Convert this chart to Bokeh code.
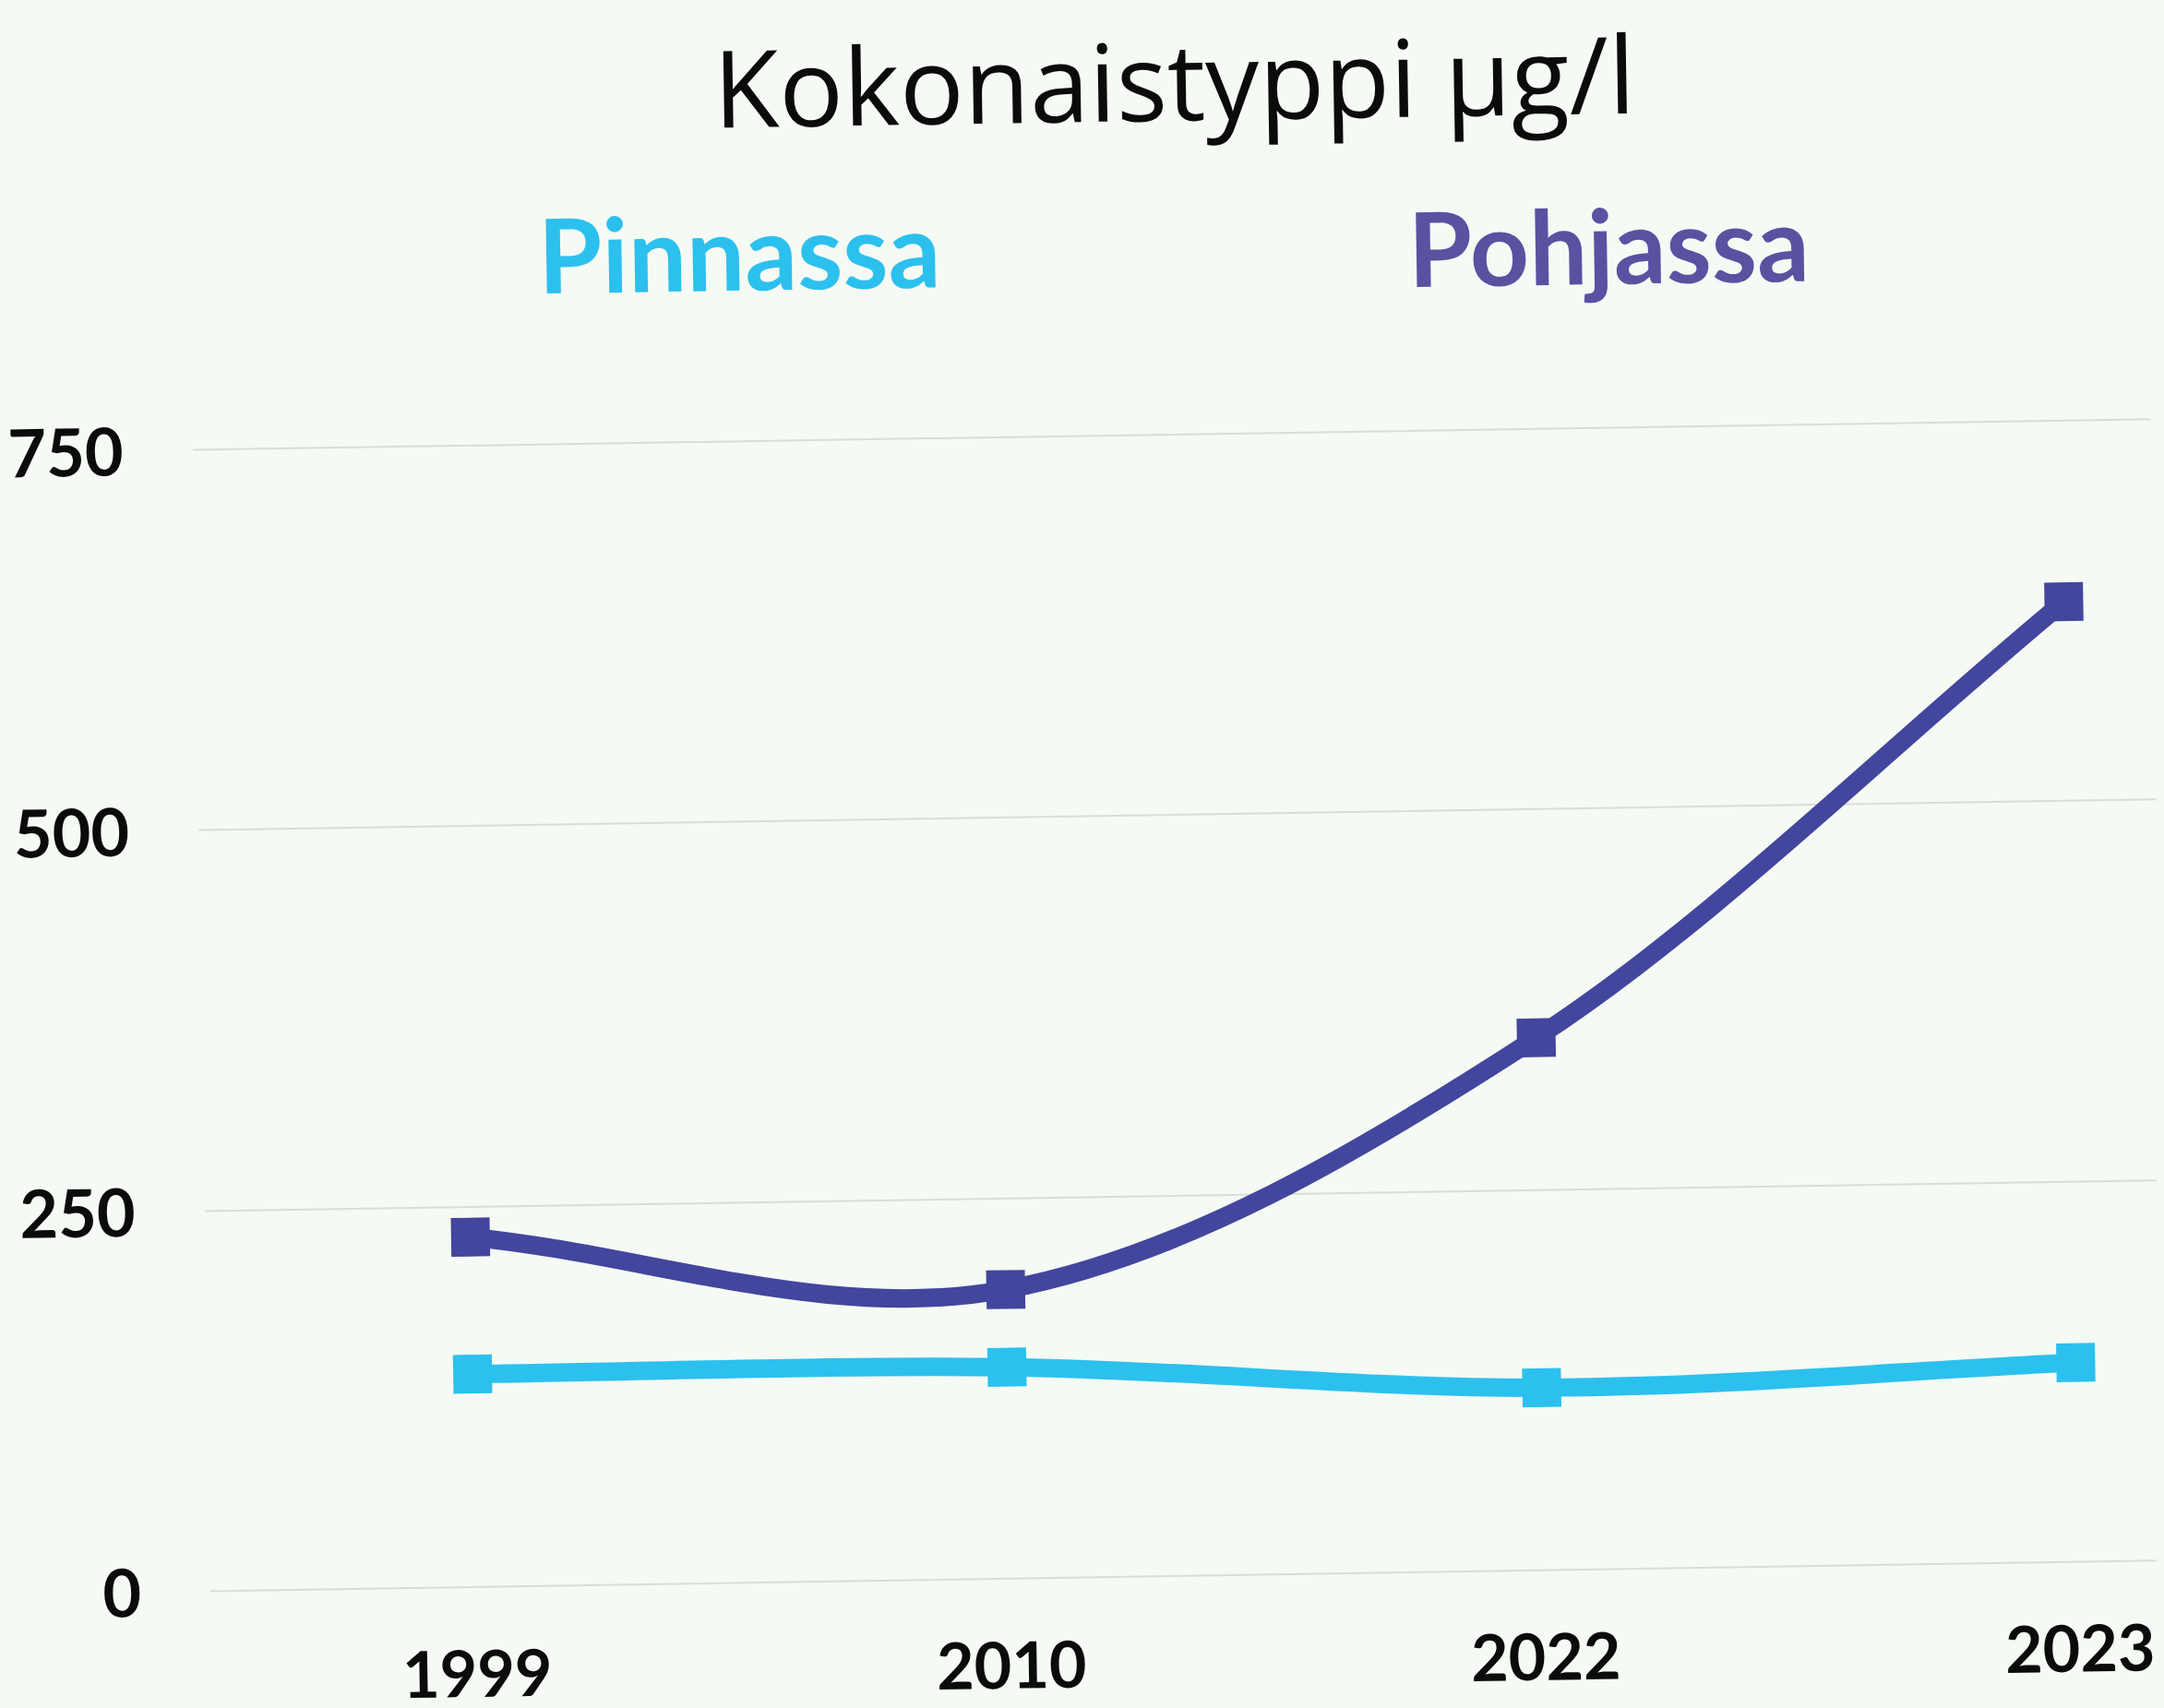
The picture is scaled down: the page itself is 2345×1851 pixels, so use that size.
from bokeh.plotting import figure
from bokeh.models import Range1d, FixedTicker, Label, InlineStyleSheet
from bokeh.embed import file_html
from bokeh.resources import INLINE

# ---- data ----
years = ["1999", "2010", "2022", "2023"]
pinnassa = [140, 139, 120, 131]
pohjassa = [230, 190, 350, 631]
y_ticks = [0, 250, 500, 750]
title_text = "Kokonaistyppi µg/l"
series_names = ["Pinnassa", "Pohjassa"]

BG = "#f5faf4"
C_PIN = "#2cc0ee"
C_POH = "#42469d"
C_POH_TXT = "#5b51a1"

xs = list(range(len(years)))


def bezier_segments(xv, yv):
    n = len(xv)
    tang = []
    for i in range(n):
        if i == 0:
            t = (yv[1] - yv[0]) / (xv[1] - xv[0])
        elif i == n - 1:
            t = (yv[-1] - yv[-2]) / (xv[-1] - xv[-2])
        else:
            t = (yv[i + 1] - yv[i - 1]) / (xv[i + 1] - xv[i - 1])
        tang.append(t)
    d = dict(x0=[], y0=[], x1=[], y1=[], cx0=[], cy0=[], cx1=[], cy1=[])
    for i in range(n - 1):
        h = xv[i + 1] - xv[i]
        d["x0"].append(xv[i]); d["y0"].append(yv[i])
        d["x1"].append(xv[i + 1]); d["y1"].append(yv[i + 1])
        d["cx0"].append(xv[i] + h / 3); d["cy0"].append(yv[i] + tang[i] * h / 3)
        d["cx1"].append(xv[i + 1] - h / 3); d["cy1"].append(yv[i + 1] - tang[i + 1] * h / 3)
    return d


p = figure(frame_width=2122, frame_height=1712, output_backend="svg",
           toolbar_location=None,
           x_range=Range1d(-0.497, 3.1675), y_range=Range1d(-6.67, 1031.5),
           min_border_left=207, min_border_right=0, min_border_top=0,
           min_border_bottom=0)

p.background_fill_color = BG
p.border_fill_color = BG
p.outline_line_color = None

p.xgrid.visible = False
p.ygrid.grid_line_color = "#d9ddd8"
p.ygrid.grid_line_width = 2

p.yaxis.ticker = FixedTicker(ticks=y_ticks)
p.xaxis.ticker = FixedTicker(ticks=xs)
p.xaxis.major_label_overrides = {i: y for i, y in zip(xs, years)}

for ax in (p.xaxis[0], p.yaxis[0]):
    ax.axis_line_color = None
    ax.major_tick_line_color = None
    ax.minor_tick_line_color = None
    ax.major_tick_out = 0
    ax.major_tick_in = 0
    ax.major_label_text_color = "#0b0b0b"
    ax.major_label_text_font = "Lato"
    ax.major_label_text_font_style = "bold"

p.yaxis.major_label_text_font_size = "72px"
p.yaxis.major_label_standoff = 75
p.xaxis.major_label_text_font_size = "70px"
p.xaxis.major_label_standoff = 57

for vals, col in ((pinnassa, C_PIN), (pohjassa, C_POH)):
    seg = bezier_segments(xs, vals)
    p.bezier(x0=seg["x0"], y0=seg["y0"], x1=seg["x1"], y1=seg["y1"],
             cx0=seg["cx0"], cy0=seg["cy0"], cx1=seg["cx1"], cy1=seg["cy1"],
             line_color=col, line_width=20)
    p.scatter(xs, vals, marker="square", size=42, fill_color=col, line_color=None)

p.add_layout(Label(x=1.351, y=983.7, text=title_text, text_align="center",
                   text_baseline="alphabetic", text_font="Open Sans",
                   text_font_size="116px", text_color="#0b0b0b"))
p.add_layout(Label(x=0.532, y=875.6, text=series_names[0], text_align="center",
                   text_baseline="alphabetic", text_font="Lato",
                   text_font_style="bold", text_font_size="112px",
                   text_color=C_PIN))
p.add_layout(Label(x=2.159, y=870.8, text=series_names[1], text_align="center",
                   text_baseline="alphabetic", text_font="Lato",
                   text_font_style="bold", text_font_size="112px",
                   text_color=C_POH_TXT))

p.stylesheets = [InlineStyleSheet(css=".bk-Canvas { transform: rotate(-0.9deg); transform-origin: 50% 50%; }")]

html = file_html(p, INLINE)
style = ("<style>html { margin: 0; padding: 0; background-color: %s; overflow: hidden; } "
         "body { margin: 8px; background-color: %s; overflow: hidden; }</style>" % (BG, BG))
html = html.replace("</head>", style + "</head>", 1)
open("out.html", "w").write(html)
